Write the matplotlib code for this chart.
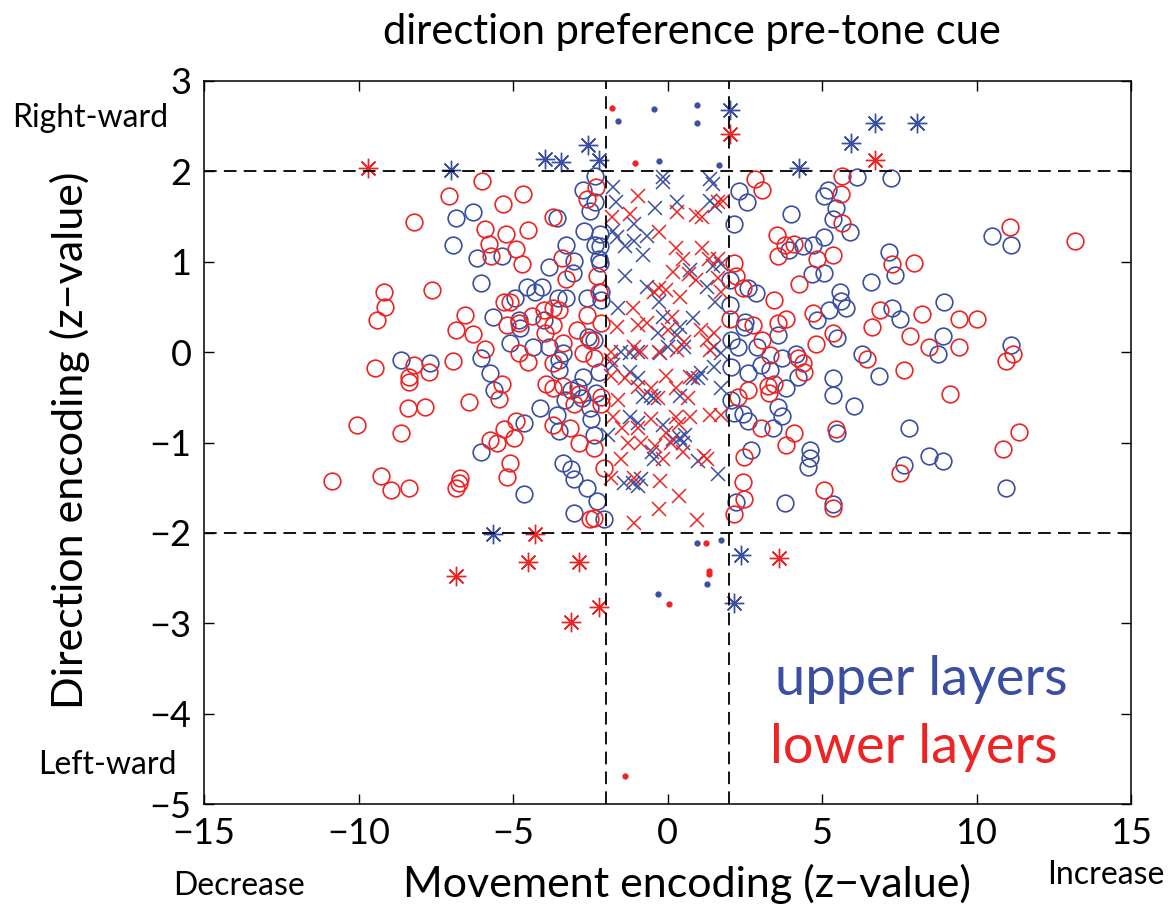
"""
direction vs movement encoding, upper and lower layers
"""

import numpy as np
import matplotlib
matplotlib.use("Agg")
import matplotlib.pyplot as plt

plt.rcParams['font.family'] = ['Lato', 'DejaVu Sans']

BLUE = "#3b4fa2"
RED = "#ee2424"

# upper layers (movement z, direction z)
upper_xy = [
    # left, inside |dir| < 2
    (-2.36, 1.95), (-2.72, 1.79), (-2.36, 1.66), (-2.52, 1.56), (-3.59, 1.48), (-6.31, 1.55),
    (-6.86, 1.48), (-6.93, 1.18), (-6.18, 1.04), (-5.34, 1.06), (-3.27, 1.19), (-2.69, 1.34),
    (-2.20, 1.31), (-2.36, 1.19), (-2.20, 1.17), (-3.04, 1.01), (-3.07, 0.88), (-3.82, 0.94),
    (-2.23, 1.03), (-2.17, 0.99), (-6.05, 0.76), (-4.56, 0.72), (-4.05, 0.72), (-4.30, 0.66),
    (-4.95, 0.60), (-3.53, 0.60), (-3.27, 0.60), (-2.59, 0.60), (-2.14, 0.66), (-2.14, 0.58),
    (-5.66, 0.39), (-4.79, 0.36), (-4.01, 0.36), (-4.76, 0.27), (-5.11, 0.10), (-4.34, 0.06),
    (-3.85, 0.06), (-3.37, -0.01), (-3.50, -0.09), (-2.56, 0.17), (-2.39, 0.13), (-6.02, -0.07),
    (-5.76, -0.23), (-8.64, -0.09), (-7.67, -0.12), (-2.72, -0.28), (-2.23, -0.22),
    (-5.63, -0.42), (-4.63, -0.78), (-6.05, -1.11), (-4.66, -1.57), (-4.14, -0.62), (-3.59, -0.70),
    (-3.50, -0.87), (-3.33, -0.53), (-3.11, -0.42), (-2.78, -0.51), (-2.52, -0.62), (-2.30, -0.45),
    (-2.46, -0.74), (-2.39, -0.92), (-3.37, -1.23), (-3.11, -1.29), (-3.01, -1.40), (-2.62, -1.50),
    (-2.27, -1.65), (-3.01, -1.78), (-2.04, -1.85), (-3.50, -0.20), (-2.91, -0.39),
    # right, inside |dir| < 2
    (2.30, 1.78), (2.56, 1.66), (2.14, 1.42), (4.01, 1.53), (5.18, 1.79), (5.08, 1.73),
    (5.44, 1.60), (5.34, 1.47), (5.92, 1.33), (6.12, 1.94), (7.22, 1.93), (5.05, 1.27),
    (4.72, 1.18), (4.37, 1.17), (3.92, 1.13), (4.69, 0.86), (5.05, 0.88), (7.18, 1.11),
    (7.35, 0.85), (6.57, 0.78), (5.57, 0.67), (5.63, 0.57), (5.79, 0.49), (5.24, 0.47),
    (7.28, 0.49), (7.54, 0.37), (8.96, 0.56), (8.93, 0.18), (8.74, -0.02), (10.49, 1.28),
    (11.13, 1.19), (11.13, 0.08), (2.01, 0.80), (2.59, 0.71), (2.85, 0.65), (2.03, 0.52),
    (2.52, 0.33), (2.46, 0.28), (2.27, 0.06), (2.04, 0.13), (2.91, 0.06), (3.56, 0.19),
    (3.72, -0.06), (4.17, -0.02), (5.47, 0.16), (4.85, 0.35), (6.31, -0.02), (3.01, -0.14),
    (2.62, -0.23), (3.33, -0.20), (2.04, -0.17), (5.34, -0.29), (6.83, -0.26),
    (5.37, -0.47), (6.02, -0.60), (7.80, -0.84), (5.47, -0.90), (4.60, -1.08), (4.60, -1.17),
    (4.56, -1.27), (2.69, -1.08), (3.79, -1.67), (2.23, -1.66), (5.34, -1.68), (7.64, -1.25),
    (8.45, -1.15), (8.90, -1.21), (10.97, -1.50), (4.21, -0.28), (3.82, -0.40), (3.56, -0.61),
    (3.69, -0.71), (3.40, -0.84), (2.43, -0.68), (2.59, -0.76), (2.04, -0.53), (2.14, -0.67),
    # centre, |move| < 2
    (-0.16, 1.94), (-0.13, 1.88), (-1.75, 1.83), (-1.68, 1.66), (-0.39, 1.60), (0.32, 1.66),
    (1.39, 1.92), (1.46, 1.86), (1.39, 1.67), (1.55, 1.62), (-1.10, 1.42), (-1.75, 1.34),
    (-1.62, 1.27), (-1.36, 1.17), (-1.10, 1.23), (-0.65, 1.28), (-0.78, 1.08), (-1.36, 0.84),
    (0.74, 0.91), (1.46, 0.95), (1.72, 0.97), (-0.65, 0.72), (-0.29, 0.56), (1.29, 0.72),
    (1.55, 0.55), (-1.59, 0.49), (-0.16, 0.39), (0.42, 0.28), (0.84, 0.38), (0.32, 0.19),
    (-0.32, 0.21), (0.00, 0.06), (0.52, 0.06), (-1.20, -0.01), (1.49, 0.06), (1.72, -0.01),
    (-1.52, 0.00), (-0.97, 0.00), (-0.23, -0.01), (-1.75, -0.14), (-1.20, -0.22), (-0.97, -0.29),
    (-0.55, -0.48), (-0.78, -0.50), (-0.45, -0.51), (0.42, -0.48), (0.81, -0.29), (1.00, -0.29),
    (1.07, -0.23), (1.49, -0.17), (1.72, -0.40), (-1.20, -0.72), (-0.97, -0.78), (-0.16, -0.81),
    (0.19, -0.96), (0.42, -0.95), (0.58, -0.92), (0.49, -1.00), (-0.49, -1.11), (-0.45, -1.18),
    (1.00, -1.20), (-1.42, -1.45), (-1.13, -1.45), (-0.97, -1.48), (-0.87, -1.40), (1.62, -1.35),
    (-1.91, -0.92),
    # outside |dir| > 2
    (-7.02, 2.01), (-3.98, 2.14), (-3.46, 2.10), (-2.56, 2.29), (-2.23, 2.13), (2.01, 2.68),
    (4.27, 2.04), (5.95, 2.31), (6.73, 2.54), (8.06, 2.54), (-5.66, -2.01), (2.39, -2.24),
    (2.14, -2.78),
    (-1.59, 2.56), (-0.45, 2.69), (-0.26, 2.12), (0.97, 2.73), (0.97, 2.54), (1.68, 2.07),
    (-0.32, -2.68), (0.94, -2.11), (1.72, -2.08), (1.29, -2.57),
]

# lower layers (movement z, direction z)
lower_xy = [
    # left, inside |dir| < 2
    (-5.99, 1.89), (-7.06, 1.73), (-4.69, 1.75), (-5.31, 1.64), (-8.19, 1.44), (-3.69, 1.50),
    (-2.59, 1.69), (-2.33, 1.83), (-5.89, 1.36), (-5.24, 1.31), (-4.50, 1.35), (-5.79, 1.20),
    (-4.89, 1.14), (-5.70, 1.06), (-4.72, 0.97), (-3.43, 1.04), (-3.27, 0.81), (-2.27, 0.84),
    (-9.19, 0.66), (-9.13, 0.50), (-9.39, 0.35), (-7.61, 0.69), (-6.54, 0.41), (-6.86, 0.25),
    (-6.28, 0.20), (-5.92, 0.04), (-5.28, 0.56), (-5.11, 0.55), (-4.37, 0.40), (-5.21, 0.30),
    (-4.79, 0.32), (-4.01, 0.47), (-3.69, 0.49), (-3.50, 0.47), (-3.98, 0.21), (-3.69, 0.30),
    (-2.94, 0.25), (-2.62, 0.41), (-2.14, 0.32), (-2.23, 0.67), (-2.52, 0.13), (-2.72, -0.01),
    (-2.39, -0.06), (-4.79, -0.01), (-4.50, -0.11), (-3.69, -0.12), (-3.37, 0.10), (-9.48, -0.18),
    (-8.22, -0.14), (-7.73, -0.22), (-6.93, -0.10), (-8.35, -0.28),
    (-8.38, -0.33), (-8.41, -0.62), (-7.86, -0.61), (-10.06, -0.81), (-8.61, -0.90), (-10.87, -1.43),
    (-9.26, -1.37), (-8.96, -1.53), (-8.35, -1.50), (-6.73, -1.39), (-6.76, -1.45), (-6.86, -1.50),
    (-6.41, -0.55), (-5.37, -0.35), (-5.44, -0.52), (-5.11, -1.23), (-5.18, -1.38), (-4.98, -0.95),
    (-5.76, -0.97), (-5.53, -1.00), (-5.28, -0.85), (-4.89, -0.76), (-3.92, -0.35), (-3.69, -0.40),
    (-3.37, -0.37), (-2.88, -0.46), (-3.01, -0.57), (-3.69, -0.81), (-3.17, -0.84), (-2.85, -1.00),
    (-2.39, -1.06), (-2.04, -1.28), (-2.39, -1.84), (-2.52, -1.85), (-2.14, -0.57), (-2.14, -0.50),
    # right, inside |dir| < 2
    (2.82, 1.92), (3.07, 1.79), (5.66, 1.95), (5.60, 1.75), (5.66, 1.43), (3.53, 1.30),
    (3.79, 1.19), (4.08, 1.20), (3.59, 1.06), (5.34, 1.08), (4.85, 1.03), (7.28, 0.97),
    (7.99, 0.99), (11.07, 1.39), (13.2, 1.23), (2.14, 0.99), (2.23, 0.84), (4.24, 0.75),
    (3.46, 0.58), (2.43, 0.71), (4.72, 0.43), (6.89, 0.47), (6.63, 0.28), (8.25, 0.42),
    (9.42, 0.37), (10.0, 0.37), (3.56, 0.32), (3.82, 0.37), (2.01, 0.37), (2.78, 0.30),
    (3.07, 0.13), (4.79, 0.09), (5.37, 0.21), (6.47, -0.08), (7.86, 0.18), (8.45, 0.06),
    (9.42, 0.06), (11.17, -0.02), (10.97, -0.10), (4.40, -0.12), (4.21, -0.07), (7.64, -0.20),
    (3.33, -0.03), (9.13, -0.46), (11.36, -0.88), (10.87, -1.07), (7.54, -1.34), (5.44, -0.85),
    (4.08, -0.90), (3.82, -1.03), (3.24, -0.37), (3.46, -0.35), (3.27, -0.45), (2.62, -0.42),
    (2.27, -0.50), (3.01, -0.84), (2.46, -1.16), (2.43, -1.44), (2.46, -1.63), (2.14, -1.79),
    (5.05, -1.53), (5.34, -1.73), (4.43, -0.22),
    # centre, |move| < 2
    (-0.97, 1.73), (-1.20, 1.53), (-1.78, 1.50), (0.32, 1.55), (0.91, 1.52), (1.13, 1.50),
    (-0.29, 1.33), (0.26, 1.15), (1.13, 1.15), (0.49, 1.03), (1.33, 1.03), (1.62, 1.03),
    (0.19, 0.89), (0.68, 0.86), (0.91, 0.80), (-0.29, 0.71), (-0.06, 0.69), (0.42, 0.61),
    (1.62, 0.82), (1.72, 0.66), (-1.13, 0.49), (-1.62, 0.28), (-0.97, 0.30), (-0.65, 0.32),
    (0.16, 0.39), (0.00, 0.25), (1.07, 0.25), (1.29, 0.13), (1.49, 0.21), (0.52, 0.11),
    (-1.10, 0.06), (-1.84, 0.00), (-0.87, 0.00), (-0.29, 0.00), (1.62, 1.66), (1.78, 1.67),
    (-0.45, 0.66), (0.32, 0.02), (1.39, 0.02), (-1.84, -0.26), (-1.36, -0.29), (-0.97, -0.39),
    (-0.55, -0.40), (-0.06, -0.26), (0.74, -0.28), (0.26, -0.40), (-1.59, -0.53), (-0.32, -0.51),
    (0.65, -0.51), (-1.75, -0.72), (-0.55, -0.74), (0.26, -0.72), (0.74, -0.72), (1.39, -0.70),
    (1.72, -0.70), (-1.46, -0.84), (-0.97, -0.84), (0.36, -0.79), (-1.29, -1.00), (-0.87, -1.00),
    (-0.06, -0.89), (0.10, -1.00), (-0.39, -1.04), (-1.52, -1.18), (-0.16, -1.18), (0.49, -1.11),
    (1.17, -1.15), (1.29, -1.18), (-1.10, -1.39), (-0.23, -1.43), (0.36, -1.59), (-0.29, -1.74),
    (-1.10, -1.89), (0.97, -1.86), (-1.84, -1.39), (-1.84, -0.09),
    # outside |dir| > 2
    (-9.68, 2.04), (2.01, 2.41), (6.70, 2.13), (-4.30, -2.01), (-4.53, -2.32), (-2.88, -2.32),
    (-6.83, -2.48), (-2.23, -2.82), (-3.11, -2.99), (3.62, -2.28),
    (-1.81, 2.70), (-1.04, 2.09), (1.26, -2.11), (1.33, -2.42), (1.35, -2.46), (0.06, -2.79),
    (-1.39, -4.69),
]

upper_x, upper_y = np.array(upper_xy).T
lower_x, lower_y = np.array(lower_xy).T

x_ticks = [-15, -10, -5, 0, 5, 10, 15]
y_ticks = [3, 2, 1, 0, -1, -2, -3, -4, -5]
threshold = 2

W, H = 1175, 915
fig = plt.figure(figsize=(W / 100, H / 100), dpi=100)
ax = fig.add_axes([204 / W, 1 - 804 / H, 927 / W, 723 / H])


def draw_layer(x, y, color):
    out_move = np.abs(x) > threshold
    out_dir = np.abs(y) > threshold
    # significant for movement only
    m = out_move & ~out_dir
    ax.plot(x[m], y[m], 'o', ms=12, mfc='none', mec=color, mew=1.2, zorder=2)
    # neither
    m = ~out_move & ~out_dir
    ax.plot(x[m], y[m], 'x', ms=10, mec=color, mew=1.1, zorder=2)
    # both
    m = out_move & out_dir
    ax.plot(x[m], y[m], marker=(8, 2, 0), ls='none', ms=14, mec=color, mew=1.0, zorder=2)
    # direction only
    m = ~out_move & out_dir
    ax.plot(x[m], y[m], 'o', ms=3.5, mfc=color, mec=color, zorder=2)


draw_layer(upper_x, upper_y, BLUE)
draw_layer(lower_x, lower_y, RED)

for v in (-threshold, threshold):
    ax.axhline(v, color='k', lw=1.3, ls=(0, (7, 4)), zorder=3)
    ax.axvline(v, color='k', lw=1.3, ls=(0, (7, 4)), zorder=3)

ax.set_xlim(-15, 15)
ax.set_ylim(-5, 3)
ax.set_xticks(x_ticks)
ax.set_yticks(y_ticks)
ax.tick_params(direction='in', length=7, width=1, top=True, right=True,
               labelsize=26, pad=9)
for s in ax.spines.values():
    s.set_linewidth(1.1)

fig.text(692 / W, 1 - 32 / H, 'direction preference pre-tone cue',
         ha='center', va='center', fontsize=30)
fig.text(70 / W, 1 - 440 / H, 'Direction encoding (z\u2212value)',
         ha='center', va='center', rotation=90, fontsize=31)
fig.text(687 / W, 1 - 884 / H, 'Movement encoding (z\u2212value)',
         ha='center', va='center', fontsize=31)
fig.text(12 / W, 1 - 118 / H, 'Right-ward', ha='left', va='center', fontsize=23)
fig.text(38 / W, 1 - 765 / H, 'Left-ward', ha='left', va='center', fontsize=23)
fig.text(173 / W, 1 - 886 / H, 'Decrease', ha='left', va='center', fontsize=23)
fig.text(1047 / W, 1 - 875 / H, 'Increase', ha='left', va='center', fontsize=23)
fig.text(775 / W, 1 - 680 / H, 'upper layers', ha='left', va='center',
         fontsize=39, color=BLUE)
fig.text(770 / W, 1 - 748 / H, 'lower layers', ha='left', va='center',
         fontsize=39, color=RED)

fig.savefig('out.png', dpi=100)
